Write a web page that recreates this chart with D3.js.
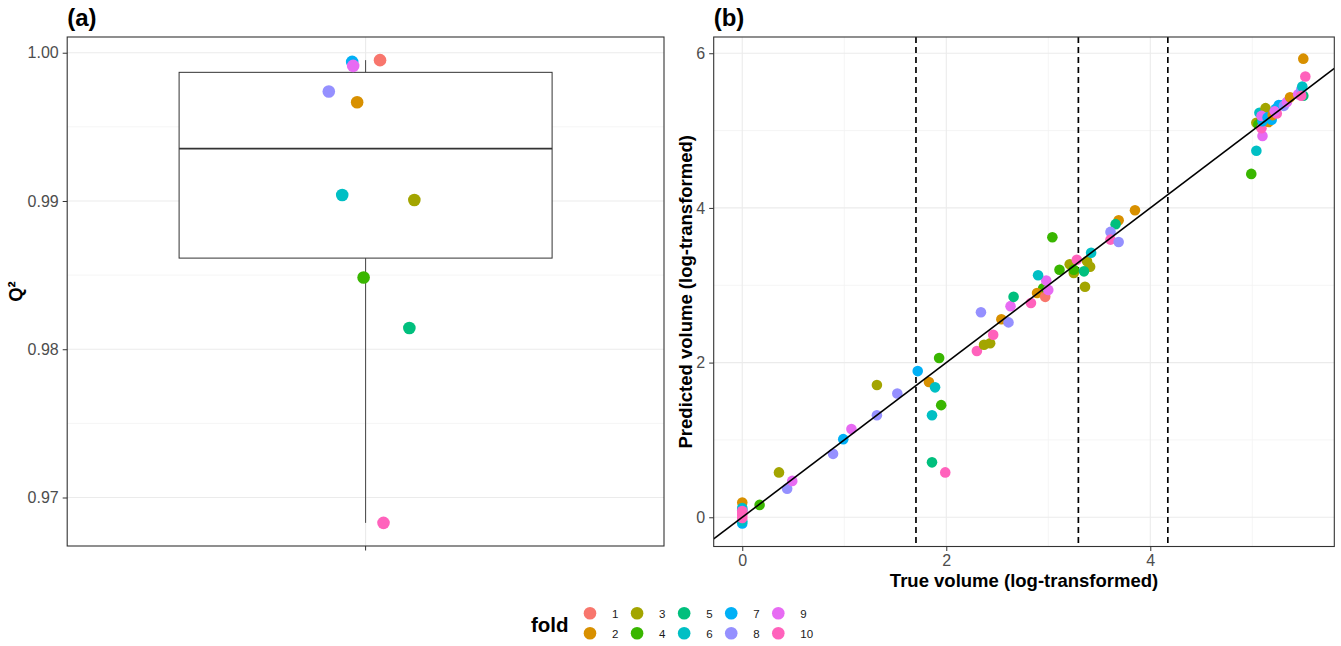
<!DOCTYPE html>
<html><head><meta charset="utf-8">
<script src="https://cdn.jsdelivr.net/npm/d3@7"></script>
<style>
body{margin:0;background:#fff;}
text{font-family:"Liberation Sans",Arial,Helvetica,sans-serif;}
</style>
</head><body>
<svg id="chart" width="1341" height="646"></svg>
<script>
// ---------------- DATA ----------------
const folds = ["1","2","3","4","5","6","7","8","9","10"];
const foldColors = ["#F8766D","#D89000","#A3A500","#39B600","#00BF7D","#00BFC4","#00B0F6","#9590FF","#E76BF3","#FF62BC"];

// Panel (a): Q² per fold, with small horizontal jitter (category units)
const q2Fold   = ["1","2","3","4","5","6","7","8","9","10"];
const q2Values = [0.99950,0.99666,0.99007,0.98484,0.98143,0.99040,0.99938,0.99738,0.99911,0.96829];
const q2Jitter = [0.029,-0.017,0.098,-0.004,0.088,-0.047,-0.027,-0.074,-0.025,0.036];
const q2Ticks  = [0.97,0.98,0.99,1.00];
const q2Minor  = [0.975,0.985,0.995];

// Panel (b): true vs predicted (log-transformed)
const bFold = ["2","6","7","7","6","9","10","10","10",
  "4","3","8","9","8","7","9","8","3","8","7","2","6","4","4","6","5","10",
  "10","3","3","10","2","8","8","9","5","10","4","2","1","9","9","6","4","4","3","3","4","10","3","3","5","3","6","2","5","8","10","8","2",
  "4","6","9","3","4","10","6","3","2","7","7","6","9","7","7","7","7","2","10","9","7","8","9","2","9","5","8","6","10","10","2"];
const bTrue = [0,0,0,0,0,0,0,0,0,
  0.17,0.36,0.44,0.49,0.89,0.99,1.07,1.32,1.32,1.52,1.72,1.83,1.89,1.93,1.95,1.86,1.86,1.99,
  2.30,2.37,2.43,2.46,2.54,2.61,2.34,2.63,2.66,2.83,2.95,2.89,2.97,3.00,2.98,2.90,3.04,3.11,3.21,3.25,3.25,3.28,3.38,3.41,3.35,3.36,3.42,3.69,3.66,3.61,3.61,3.69,3.85,
  4.99,5.04,5.10,5.04,5.06,5.09,5.07,5.13,5.16,5.19,5.10,5.13,5.09,5.15,5.21,5.23,5.26,5.20,5.24,5.22,5.30,5.31,5.34,5.37,5.45,5.50,5.48,5.49,5.48,5.52,5.50];
const bPred = [0.19,0.12,0.09,-0.08,-0.05,0.06,0.08,0.03,-0.01,
  0.16,0.58,0.37,0.47,0.82,1.01,1.14,1.32,1.71,1.60,1.89,1.75,1.68,2.06,1.45,1.32,0.71,0.58,
  2.15,2.23,2.25,2.36,2.56,2.52,2.65,2.73,2.85,2.77,2.96,2.90,2.85,2.94,3.06,3.13,3.62,3.20,3.27,3.16,3.20,3.33,3.31,3.24,3.18,2.98,3.42,3.84,3.79,3.69,3.59,3.56,3.97,
  4.44,4.74,4.93,5.10,5.08,5.03,5.23,5.29,5.11,5.14,5.12,5.17,5.19,5.17,5.22,5.28,5.33,5.20,5.22,5.25,5.33,5.32,5.37,5.43,5.47,5.45,5.53,5.57,5.45,5.70,5.93];
const bXTicks = [0,2,4], bXMinor = [1,3,5];
const bYTicks = [0,2,4,6], bYMinor = [1,3,5];
const cutoffs = [1.703,3.295,4.172];

// ---------------- LAYOUT ----------------
const svg = d3.select("#chart");
const color = d3.scaleOrdinal().domain(folds).range(foldColors);
const GRID = "#ebebeb", GRIDMINOR = "#f3f3f3", BORDER = "#333333", TICKTXT = "#4d4d4d";
const tickFont = "16px", titleFont = "18.5px";

function styleAxis(g){
  g.select(".domain").remove();
  g.selectAll(".tick line").attr("stroke",BORDER).attr("stroke-width",1);
  g.selectAll(".tick text").attr("fill",TICKTXT).style("font-size",tickFont)
    .style("font-family",'"Liberation Sans",Arial,sans-serif');
}

// ===== Panel (a) =====
const A = {l:67.2, r:664, t:37, b:546};
const ext = d3.extent(q2Values), pad = (ext[1]-ext[0])*0.05;
const ya = d3.scaleLinear().domain([ext[0]-pad, ext[1]+pad]).range([A.b, A.t]);
const xa = d3.scaleLinear().domain([0.4,1.6]).range([A.l, A.r]);
const ga = svg.append("g");
ga.append("g").selectAll("line").data(q2Minor).join("line")
  .attr("x1",A.l).attr("x2",A.r).attr("y1",d=>ya(d)).attr("y2",d=>ya(d))
  .attr("stroke",GRIDMINOR).attr("stroke-width",0.8);
ga.append("g").selectAll("line").data(q2Ticks).join("line")
  .attr("x1",A.l).attr("x2",A.r).attr("y1",d=>ya(d)).attr("y2",d=>ya(d))
  .attr("stroke",GRID).attr("stroke-width",1.1);
ga.append("line").attr("x1",xa(1)).attr("x2",xa(1)).attr("y1",A.t).attr("y2",A.b)
  .attr("stroke",GRID).attr("stroke-width",1.1);

// boxplot from data
const sorted = q2Values.slice().sort(d3.ascending);
const q1 = d3.quantile(sorted,0.25), med = d3.quantile(sorted,0.5), q3 = d3.quantile(sorted,0.75);
const iqr = q3-q1;
const wLo = d3.min(sorted.filter(v=>v>=q1-1.5*iqr)), wHi = d3.max(sorted.filter(v=>v<=q3+1.5*iqr));
const bw = 0.75;
ga.append("line").attr("x1",xa(1)).attr("x2",xa(1)).attr("y1",ya(wHi)).attr("y2",ya(q3)).attr("stroke",BORDER).attr("stroke-width",0.9);
ga.append("line").attr("x1",xa(1)).attr("x2",xa(1)).attr("y1",ya(q1)).attr("y2",ya(wLo)).attr("stroke",BORDER).attr("stroke-width",0.9);
ga.append("rect").attr("x",xa(1-bw/2)).attr("width",xa(1+bw/2)-xa(1-bw/2))
  .attr("y",ya(q3)).attr("height",ya(q1)-ya(q3)).attr("fill","#fff").attr("stroke",BORDER).attr("stroke-width",1);
ga.append("line").attr("x1",xa(1-bw/2)).attr("x2",xa(1+bw/2)).attr("y1",ya(med)).attr("y2",ya(med)).attr("stroke",BORDER).attr("stroke-width",1.6);

ga.append("g").selectAll("circle").data(q2Values.map((v,i)=>({v,f:q2Fold[i],j:q2Jitter[i]}))).join("circle")
  .attr("cx",d=>xa(1+d.j)).attr("cy",d=>ya(d.v)).attr("r",6.3).attr("fill",d=>color(d.f));

ga.append("rect").attr("x",A.l).attr("y",A.t).attr("width",A.r-A.l).attr("height",A.b-A.t)
  .attr("fill","none").attr("stroke",BORDER).attr("stroke-width",1.1);
ga.append("g").attr("transform",`translate(${A.l},0)`)
  .call(d3.axisLeft(ya).tickValues(q2Ticks).tickFormat(d3.format(".2f")).tickSize(4.5).tickPadding(4)).call(styleAxis);
ga.append("line").attr("x1",xa(1)).attr("x2",xa(1)).attr("y1",A.b).attr("y2",A.b+4.5).attr("stroke",BORDER);
ga.append("text").attr("x",A.l).attr("y",26).text("(a)").style("font-size","24px").style("font-weight","bold");
ga.append("text").attr("transform",`translate(22,${(A.t+A.b)/2}) rotate(-90)`).attr("text-anchor","middle")
  .text("Q²").style("font-size",titleFont).style("font-weight","bold");

// ===== Panel (b) =====
const B = {l:713.7, r:1334.3, t:37, b:546.5};
const xb = d3.scaleLinear().domain([-0.28,5.804]).range([B.l,B.r]);
const yb = d3.scaleLinear().domain([-0.378,6.21]).range([B.b,B.t]);
const gb = svg.append("g");
svg.append("clipPath").attr("id","clipb").append("rect").attr("x",B.l).attr("y",B.t).attr("width",B.r-B.l).attr("height",B.b-B.t);
gb.append("g").selectAll("line").data(bXMinor).join("line")
  .attr("x1",d=>xb(d)).attr("x2",d=>xb(d)).attr("y1",B.t).attr("y2",B.b).attr("stroke",GRIDMINOR).attr("stroke-width",0.8);
gb.append("g").selectAll("line").data(bYMinor).join("line")
  .attr("y1",d=>yb(d)).attr("y2",d=>yb(d)).attr("x1",B.l).attr("x2",B.r).attr("stroke",GRIDMINOR).attr("stroke-width",0.8);
gb.append("g").selectAll("line").data(bXTicks).join("line")
  .attr("x1",d=>xb(d)).attr("x2",d=>xb(d)).attr("y1",B.t).attr("y2",B.b).attr("stroke",GRID).attr("stroke-width",1.1);
gb.append("g").selectAll("line").data(bYTicks).join("line")
  .attr("y1",d=>yb(d)).attr("y2",d=>yb(d)).attr("x1",B.l).attr("x2",B.r).attr("stroke",GRID).attr("stroke-width",1.1);

const pts = bTrue.map((t,i)=>({t,p:bPred[i],f:bFold[i]}));
const plot = gb.append("g").attr("clip-path","url(#clipb)");
plot.append("g").selectAll("line").data(cutoffs).join("line")
  .attr("x1",d=>xb(d)).attr("x2",d=>xb(d)).attr("y1",B.t).attr("y2",B.b)
  .attr("stroke","#000").attr("stroke-width",1.7).attr("stroke-dasharray","6,4");
plot.append("g").selectAll("circle").data(pts).join("circle")
  .attr("cx",d=>xb(d.t)).attr("cy",d=>yb(d.p)).attr("r",5.3).attr("fill",d=>color(d.f));
const dom = xb.domain();
plot.append("line").attr("x1",xb(dom[0])).attr("y1",yb(dom[0])).attr("x2",xb(dom[1])).attr("y2",yb(dom[1]))
  .attr("stroke","#000").attr("stroke-width",1.6);

gb.append("rect").attr("x",B.l).attr("y",B.t).attr("width",B.r-B.l).attr("height",B.b-B.t)
  .attr("fill","none").attr("stroke",BORDER).attr("stroke-width",1.1);
gb.append("g").attr("transform",`translate(${B.l},0)`)
  .call(d3.axisLeft(yb).tickValues(bYTicks).tickFormat(d3.format("d")).tickSize(4.5).tickPadding(4)).call(styleAxis);
gb.append("g").attr("transform",`translate(0,${B.b})`)
  .call(d3.axisBottom(xb).tickValues(bXTicks).tickFormat(d3.format("d")).tickSize(4.5).tickPadding(4)).call(styleAxis);
gb.append("text").attr("x",B.l).attr("y",26).text("(b)").style("font-size","24px").style("font-weight","bold");
gb.append("text").attr("x",(B.l+B.r)/2).attr("y",587).attr("text-anchor","middle")
  .text("True volume (log-transformed)").style("font-size",titleFont).style("font-weight","bold");
gb.append("text").attr("transform",`translate(692,${(B.t+B.b)/2}) rotate(-90)`).attr("text-anchor","middle")
  .text("Predicted volume (log-transformed)").style("font-size",titleFont).style("font-weight","bold");

// ===== Legend =====
const gl = svg.append("g");
gl.append("text").attr("x",531).attr("y",631.5).text("fold").style("font-size","20.5px").style("font-weight","bold");
const colX = d3.scalePoint().domain([0,1,2,3,4]).range([590,778.3]);
const rowY = d3.scalePoint().domain([0,1]).range([613.3,633.3]);
const leg = gl.selectAll("g.k").data(folds).join("g").attr("class","k")
  .attr("transform",(d,i)=>`translate(${colX(Math.floor(i/2))},${rowY(i%2)})`);
leg.append("circle").attr("r",6.3).attr("fill",d=>color(d));
leg.append("text").attr("x",22).attr("y",5).text(d=>d).style("font-size","11.5px").attr("fill","#1a1a1a");
</script>
</body></html>
